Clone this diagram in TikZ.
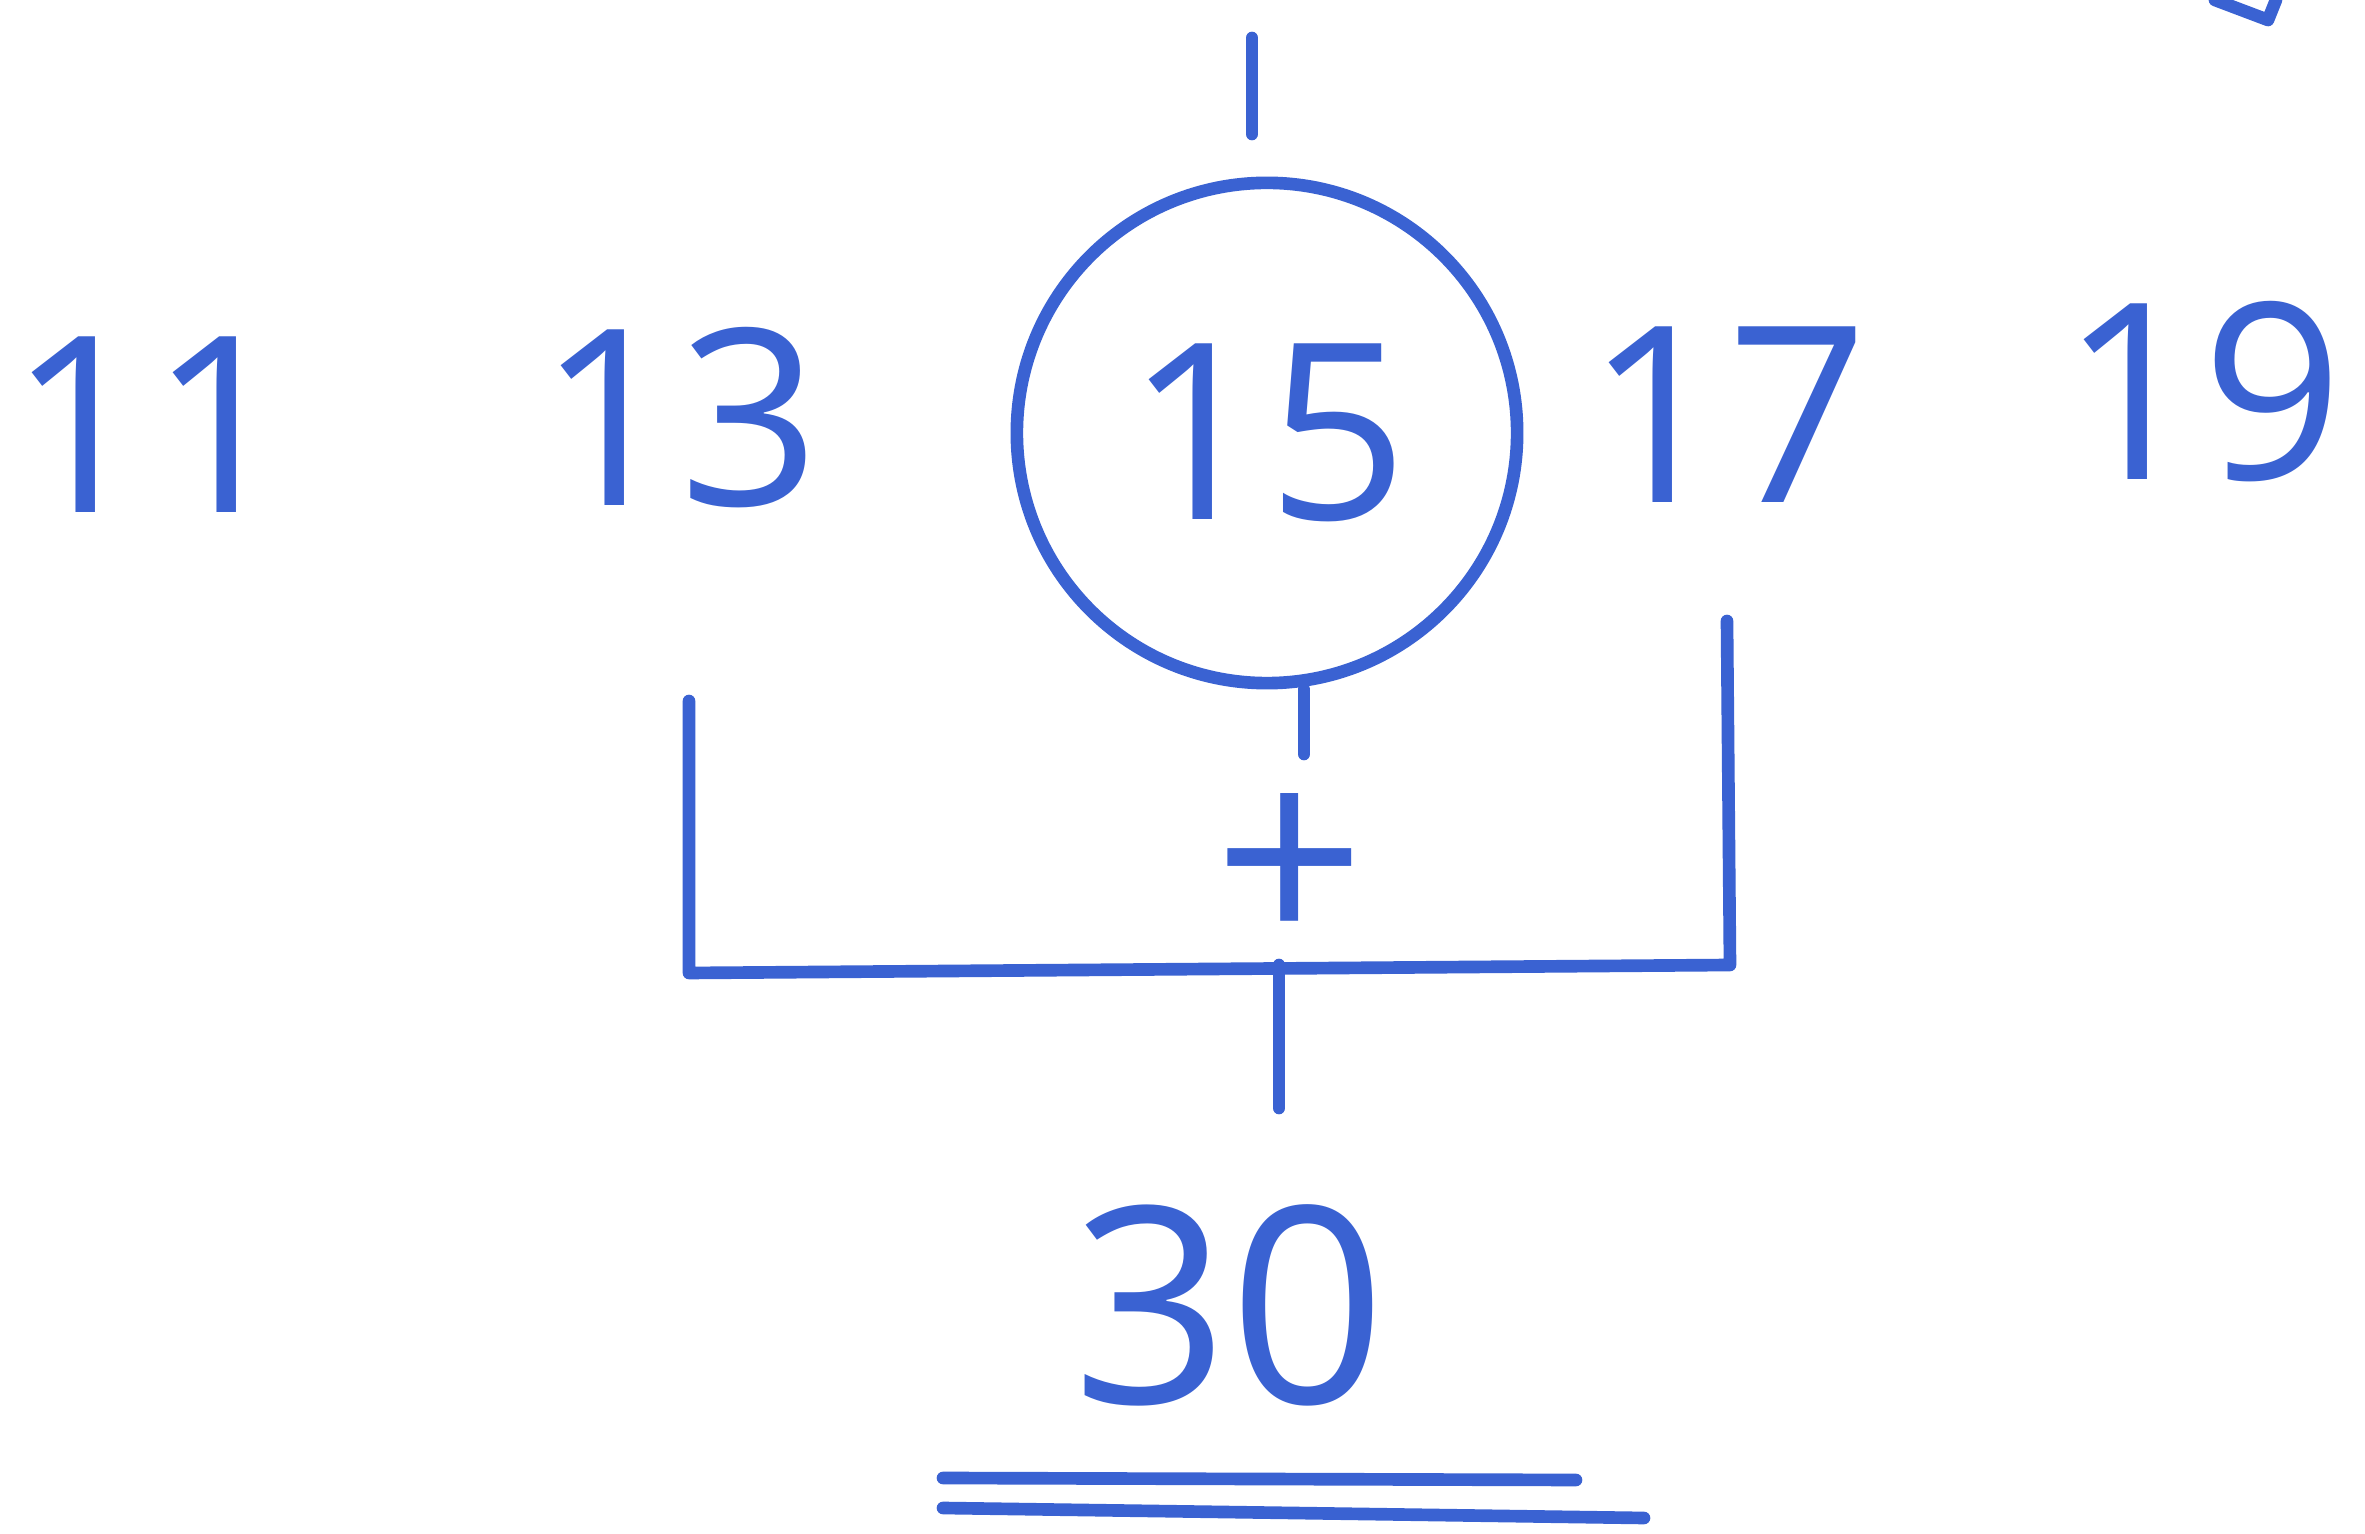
\documentclass[tikz,border=0pt]{standalone}
\usepackage{fontspec}
\setmainfont{Open Sans}
\definecolor{ink}{HTML}{3A62D2}
\begin{document}
\begin{tikzpicture}[x=0.01cm,y=-0.01cm,
  hand/.style={draw=ink,line width=3.6pt,line cap=round,line join=round},
  num/.style={text=ink,font=\fontsize{70}{72}\selectfont,inner sep=0pt},
  bigsum/.style={text=ink,font=\fontsize{75}{77}\selectfont,inner sep=0pt},
  ring/.style={circle,draw=ink,line width=3.6pt,minimum size=5cm,inner sep=0pt,text=ink,font=\fontsize{70}{72}\selectfont}]
\useasboundingbox (0,0) rectangle (2365,1534);
\fill[white] (0,0) rectangle (2365,1534);
% numbers
\node[num] (n11) at (150,425) {11};
\node[num] (n13) at (679,418) {13};
\node[ring] (c15) at (1267,433) {15};
\node[num] (n17) at (1727,415) {17};
\node[num] (n19) at (2202,392) {19};
% input line above circle
\coordinate (inA) at (1252,38);
\coordinate (inB) at (1252,134);
\draw[hand] (inA) -- (inB);
% line from circle to sum
\coordinate (sumtop) at (1304,754);
\draw[hand] (c15.south -| sumtop) -- (sumtop);
% sum sign
\node[bigsum] (plus) at (1290,872) {+};
% bracket
\coordinate (bl) at (689,701);
\coordinate (blc) at (689,973);
\coordinate (brc) at (1730,965);
\coordinate (br) at (1727,621);
\draw[hand] (bl) -- (blc) -- (brc) -- (br);
% output line
\coordinate (outA) at (1279,965);
\coordinate (outB) at (1279,1108);
\draw[hand] (outA) -- (outB);
% result
\node[num,font=\fontsize{78}{80}\selectfont] (res) at (1229,1305) {30};
\coordinate (u1a) at (943,1478);
\coordinate (u1b) at (1576,1480);
\coordinate (u2a) at (943,1508);
\coordinate (u2b) at (1644,1518);
\draw[hand] (u1a) -- (u1b);
\draw[hand] (u2a) -- (u2b);
% partial stroke at top right
\coordinate (tra) at (2215,0);
\coordinate (trb) at (2268,20);
\coordinate (trc) at (2276,0);
\draw[hand] (tra) -- (trb) -- (trc);
\end{tikzpicture}
\end{document}
